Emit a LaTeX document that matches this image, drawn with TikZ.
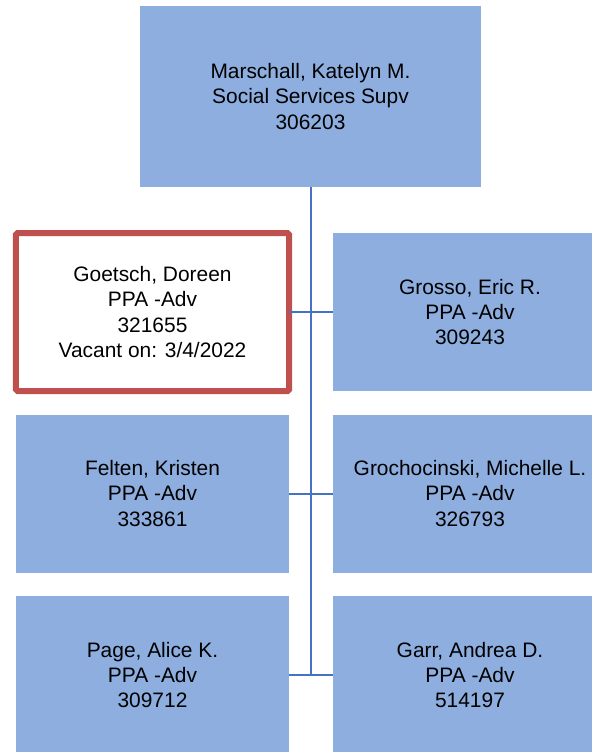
\documentclass[tikz,border=0pt]{standalone}
\usepackage{fontspec}
\setmainfont{Liberation Sans}
\usepackage{tikz}
\usetikzlibrary{positioning, calc}
\usepackage{xcolor}
\definecolor{boxblue}{RGB}{141,174,222}
\definecolor{lineblue}{RGB}{68,114,196}
\definecolor{vacantred}{RGB}{192,80,77}

\begin{document}
\begin{tikzpicture}[
  x=1bp, y=-1bp,
  every node/.style={align=center, inner sep=0pt, outer sep=0pt,
                     font=\fontsize{21}{25.5}\selectfont},
  staff/.style={rectangle, fill=boxblue, minimum width=273bp, minimum height=158bp},
  boss/.style={rectangle, fill=boxblue, minimum width=341bp, minimum height=181bp},
  vacant/.style={rectangle, fill=white, draw=vacantred, line width=6bp,
                 rounded corners=1.5bp, minimum width=273bp, minimum height=158bp},
  link/.style={draw=lineblue, line width=2bp}
]
\useasboundingbox (0,0) rectangle (592,752);
\clip (0,0) rectangle (592,752);

% ---- Supervisor ----
\node (supv) [boss] at (310.5,96.5)
  {Marschall, Katelyn M.\\ Social Services Supv\\ 306203};

% ---- Staff ----
\node (goetsch) [vacant] at (152.5,312)
  {Goetsch, Doreen\\ PPA -Adv\\ 321655\\ Vacant on: 3/4/2022};
\node (grosso)  [staff, minimum width=274bp] at (470,312)
  {Grosso, Eric R.\\ PPA -Adv\\ 309243};
\node (felten)  [staff] at (152.5,493.5)
  {Felten, Kristen\\ PPA -Adv\\ 333861};
\node (groch)   [staff, minimum width=274bp] at (470,493.5)
  {Grochocinski, Michelle L.\\ PPA -Adv\\ 326793};
\node (page)    [staff] at (152.5,675)
  {Page, Alice K.\\ PPA -Adv\\ 309712};
\node (garr)    [staff, minimum width=274bp] at (470,675)
  {Garr, Andrea D.\\ PPA -Adv\\ 514197};

% ---- Connectors ----
\coordinate (trunkend) at (supv.south |- page.east);
\draw [link] (supv.south) -- (trunkend);
\draw [link] (goetsch.east) -- (grosso.west);
\draw [link] (felten.east)  -- (groch.west);
\draw [link] (page.east)    -- (garr.west);
\end{tikzpicture}
\end{document}
